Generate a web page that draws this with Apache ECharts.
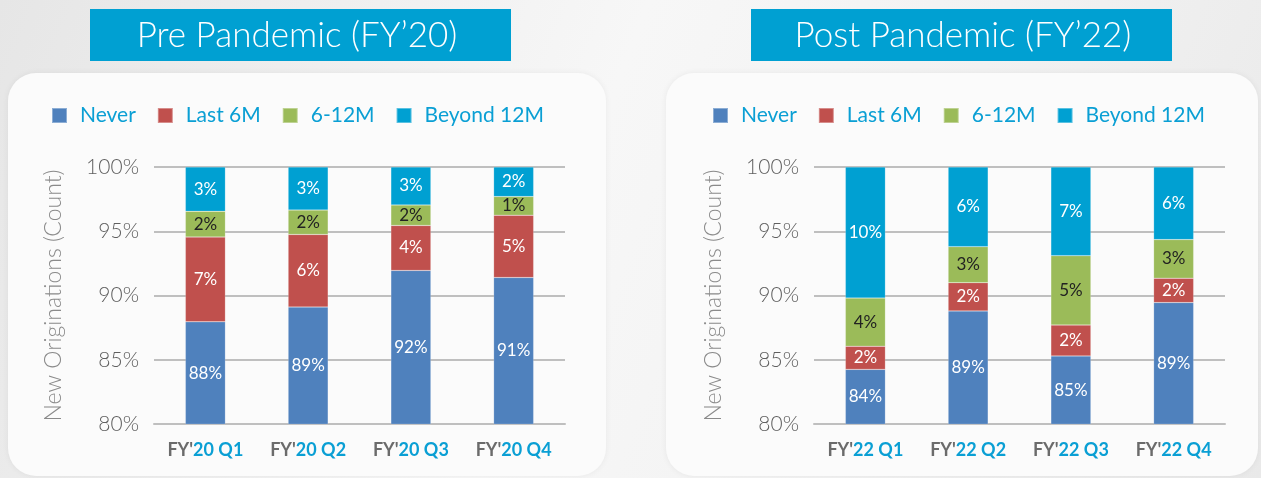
<!DOCTYPE html>
<html>
<head>
<meta charset="utf-8">
<title>New Originations</title>
<script src="https://cdn.jsdelivr.net/npm/echarts@6/dist/echarts.min.js"></script>
<style>
  html, body { margin: 0; padding: 0; }
  #main { width: 1261px; height: 478px; }
</style>
</head>
<body>
<div id="main"></div>
<script>
// data (percent of new originations, by count)
var seriesNames = ['Never', 'Last 6M', '6-12M', 'Beyond 12M'];
var preQuarters = ["FY'20 Q1", "FY'20 Q2", "FY'20 Q3", "FY'20 Q4"];
var postQuarters = ["FY'22 Q1", "FY'22 Q2", "FY'22 Q3", "FY'22 Q4"];

var preNever = [87.95, 89.1, 91.95, 91.4];
var preLast6 = [6.6, 5.65, 3.5, 4.85];
var pre612 = [2.0, 1.9, 1.6, 1.45];
var preBeyond = [3.45, 3.35, 2.95, 2.3];

var postNever = [84.25, 88.8, 85.3, 89.45];
var postLast6 = [1.8, 2.2, 2.4, 1.9];
var post612 = [3.75, 2.8, 5.4, 3.0];
var postBeyond = [10.2, 6.2, 6.9, 5.65];

var yTicks = [80, 85, 90, 95, 100];

var colors = ['#4f81bd', '#c0504d', '#9bbb59', '#00a0d2'];
var labelColors = ['#ffffff', '#ffffff', '#222222', '#ffffff'];
var cyan = '#0a9fd4';
var fontFam = 'Lato, "Noto Sans", sans-serif';

var chart = echarts.init(document.getElementById('main'));

function makeSeries(arrs, idx, stack) {
    return arrs.map(function (d, i) {
        return {
            name: seriesNames[i],
            type: 'bar',
            stack: stack,
            xAxisIndex: idx,
            yAxisIndex: idx,
            barWidth: 40,
            data: d,
            itemStyle: { color: colors[i], borderColor: 'rgba(255,255,255,0.35)', borderWidth: 0.5 },
            label: {
                show: true,
                position: 'inside',
                color: labelColors[i],
                fontFamily: fontFam,
                fontSize: 17,
                formatter: function (p) { return Math.round(p.value) + '%'; }
            },
            emphasis: { disabled: true }
        };
    });
}

function xAxisFor(cats, idx) {
    return {
        type: 'category',
        gridIndex: idx,
        data: cats,
        axisTick: { show: false },
        axisLine: { lineStyle: { color: '#bfbfbf', width: 2 } },
        axisLabel: {
            interval: 0,
            margin: 17,
            formatter: function (v) {
                return '{g|FY\'}{c|' + v.slice(3) + '}';
            },
            rich: {
                g: { color: '#6b6b6b', fontSize: 18, fontWeight: 'bold', fontFamily: fontFam },
                c: { color: cyan, fontSize: 18, fontWeight: 'bold', fontFamily: fontFam }
            }
        }
    };
}

function yAxisFor(idx) {
    return {
        type: 'value',
        gridIndex: idx,
        min: yTicks[0],
        max: yTicks[yTicks.length - 1],
        interval: 5,
        name: 'New Originations (Count)',
        nameLocation: 'middle',
        nameGap: 89,
        nameTextStyle: { color: '#8a8a8a', fontSize: 23, fontFamily: fontFam, fontWeight: 300 },
        axisLine: { show: false },
        axisTick: { show: false },
        axisLabel: {
            margin: 15,
            color: '#5f5f5f',
            fontSize: 21,
            fontFamily: fontFam,
            fontWeight: 300,
            formatter: '{value}%'
        },
        splitLine: { lineStyle: { color: '#bfbfbf', width: 2 } }
    };
}

function legendFor(left) {
    return {
        data: seriesNames,
        left: left,
        top: 105,
        padding: 0,
        icon: 'rect',
        itemWidth: 15,
        itemHeight: 15,
        itemGap: 21,
        selectedMode: false,
        textStyle: { color: cyan, fontSize: 21, fontFamily: fontFam, padding: [0, 0, 0, 8] }
    };
}

var option = {
    animation: false,
    backgroundColor: {
        type: 'linear', x: 0, y: 0, x2: 1, y2: 1,
        colorStops: [
            { offset: 0, color: '#e6e6e6' },
            { offset: 0.45, color: '#f7f7f7' },
            { offset: 0.7, color: '#f2f2f2' },
            { offset: 1, color: '#e9e9e9' }
        ]
    },
    graphic: [
        {
            type: 'rect', z: -10,
            shape: { x: 8, y: 73, width: 598, height: 403, r: 28 },
            style: { fill: '#fbfbfb', shadowBlur: 6, shadowColor: 'rgba(0,0,0,0.06)' }
        },
        {
            type: 'rect', z: -10,
            shape: { x: 666, y: 73, width: 592, height: 403, r: 28 },
            style: { fill: '#fbfbfb', shadowBlur: 6, shadowColor: 'rgba(0,0,0,0.06)' }
        },
        {
            type: 'rect',
            shape: { x: 90, y: 9, width: 421, height: 52 },
            style: { fill: '#00a0d2' }
        },
        {
            type: 'text',
            x: 297, y: 36,
            style: {
                text: 'Pre Pandemic (FY\u201920)', fill: '#ffffff',
                font: '300 35px ' + fontFam, align: 'center', verticalAlign: 'middle'
            }
        },
        {
            type: 'rect',
            shape: { x: 751, y: 9, width: 421, height: 52 },
            style: { fill: '#00a0d2' }
        },
        {
            type: 'text',
            x: 963, y: 36,
            style: {
                text: 'Post Pandemic (FY\u201922)', fill: '#ffffff',
                font: '300 35px ' + fontFam, align: 'center', verticalAlign: 'middle'
            }
        }
    ],
    legend: [legendFor(51), legendFor(712)],
    grid: [
        { left: 154, top: 167, width: 411, height: 257 },
        { left: 814, top: 167, width: 411, height: 257 }
    ],
    xAxis: [xAxisFor(preQuarters, 0), xAxisFor(postQuarters, 1)],
    yAxis: [yAxisFor(0), yAxisFor(1)],
    series: makeSeries([preNever, preLast6, pre612, preBeyond], 0, 'pre')
        .concat(makeSeries([postNever, postLast6, post612, postBeyond], 1, 'post'))
};

chart.setOption(option);
</script>
</body>
</html>
